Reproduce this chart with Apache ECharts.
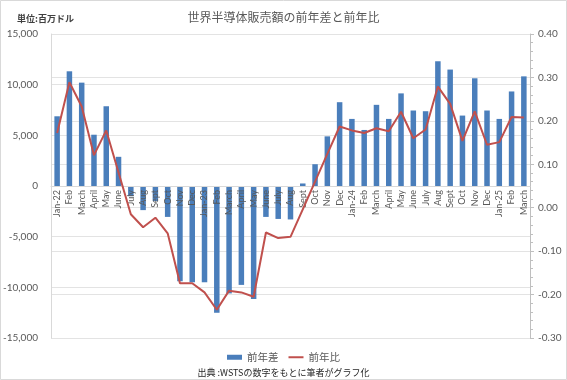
<!DOCTYPE html>
<html><head><meta charset="utf-8">
<script src="https://cdn.jsdelivr.net/npm/echarts@6/dist/echarts.min.js"></script>
<style>html,body{margin:0;padding:0;background:#fff}#c{width:567px;height:380px}</style>
</head><body><div id="c"></div>
<script>
const categories = ["Jan-22","Feb","March","April","May","June","July","Aug","Sept","Oct","Nov","Dec",
  "Jan-23","Feb","March","April","May","June","July","Aug","Sept","Oct","Nov","Dec",
  "Jan-24","Feb","March","April","May","June","July","Aug","Sept","Oct","Nov","Dec",
  "Jan-25","Feb","March"];
const diffValues = [6880,11320,10200,5060,7870,2880,-1000,-2380,-1490,-3050,-9400,-9500,
  -9500,-12510,-10600,-9760,-11150,-3050,-3250,-3300,250,2150,4900,8270,
  6620,5530,8010,6620,9140,7450,7380,12310,11490,6950,10630,7450,
  6620,9330,10820];
const ratioValues = [0.172,0.289,0.233,0.121,0.178,0.081,-0.015,-0.045,-0.023,-0.059,-0.174,-0.174,
  -0.195,-0.235,-0.191,-0.195,-0.205,-0.057,-0.070,-0.067,-0.004,0.060,0.124,0.187,
  0.178,0.172,0.183,0.176,0.221,0.160,0.180,0.279,0.239,0.154,0.222,0.145,
  0.151,0.209,0.208];
const leftTicks = {min:-15000, max:15000, interval:5000};
const rightTicks = {min:-0.3, max:0.4, interval:0.1};
const seriesNames = ["前年差","前年比"];
const titleText = "世界半導体販売額の前年差と前年比";
const unitText = "単位:百万ドル";
const sourceText = "出典 :WSTSの数字をもとに筆者がグラフ化";

const FONT = 'Lato, "Noto Sans CJK JP", sans-serif';
const JP = '"Noto Sans CJK JP", sans-serif';
const chart = echarts.init(document.getElementById('c'), null, {renderer:'canvas'});
chart.setOption({
  animation:false,
  backgroundColor:'#fff',
  textStyle:{fontFamily:FONT},
  title:[
    {text:titleText, left:'center', top:6, textStyle:{fontFamily:JP, fontSize:12, fontWeight:'normal', color:'#595959'}},
    {text:unitText, left:12, top:9, textStyle:{fontFamily:JP, fontSize:9, fontWeight:'bold', color:'#404040'}},
    {text:sourceText, left:'center', top:363, textStyle:{fontFamily:JP, fontSize:9, fontWeight:'normal', color:'#262626'}}
  ],
  legend:{
    top:347, left:'center', itemWidth:15, itemHeight:5, itemGap:10, symbolKeepAspect:true,
    textStyle:{fontFamily:JP, fontSize:10.5, color:'#595959'},
    data:[{name:seriesNames[0], icon:'rect'},
          {name:seriesNames[1], icon:'path://M0,0 L30,0 L30,4 L0,4 Z'}]
  },
  graphic:[{type:'rect', shape:{x:0.5,y:0.5,width:566,height:379}, style:{fill:'none', stroke:'#d9d9d9', lineWidth:1}, silent:true}],
  grid:{left:49, right:37, top:34, bottom:42},
  xAxis:{
    type:'category', data:categories, boundaryGap:true, z:3, offset:0,
    axisLine:{onZero:false, lineStyle:{color:'#d9d9d9'}},
    axisTick:{show:false},
    axisLabel:{interval:0, rotate:90, fontSize:9, color:'#595959', margin:4}
  },
  yAxis:[
    {type:'value', min:leftTicks.min, max:leftTicks.max, interval:leftTicks.interval,
     axisLine:{show:true, lineStyle:{color:'#d9d9d9'}}, axisTick:{show:false},
     axisLabel:{fontSize:10, color:'#595959', margin:13, formatter:v=>v.toLocaleString('en-US')},
     splitLine:{lineStyle:{color:'#e3e3e3'}}},
    {type:'value', min:rightTicks.min, max:rightTicks.max, interval:rightTicks.interval,
     axisLine:{show:true, lineStyle:{color:'#bfbfbf'}},
     axisTick:{show:true, length:4, lineStyle:{color:'#bfbfbf'}},
     minorTick:{show:true, splitNumber:5, length:3, lineStyle:{color:'#bfbfbf'}},
     axisLabel:{fontSize:10, color:'#595959', margin:8, formatter:v=>v.toFixed(2)},
     splitLine:{show:true, lineStyle:{color:'#e3e3e3'}}}
  ],
  series:[
    {name:seriesNames[0], type:'bar', data:diffValues, yAxisIndex:0, barWidth:5.5, z:2,
     itemStyle:{color:'#4a7ebb'}},
    {name:seriesNames[1], type:'line', data:ratioValues, yAxisIndex:1, symbol:'none', z:5,
     lineStyle:{color:'#c0504d', width:2}, itemStyle:{color:'#c0504d'}}
  ]
});
// place the category axis (line + labels) on the zero of the left value axis
const zeroY = chart.convertToPixel({yAxisIndex:0}, 0);
const bottomY = chart.convertToPixel({yAxisIndex:0}, leftTicks.min);
chart.setOption({xAxis:{offset: zeroY - bottomY}});
</script></body></html>
